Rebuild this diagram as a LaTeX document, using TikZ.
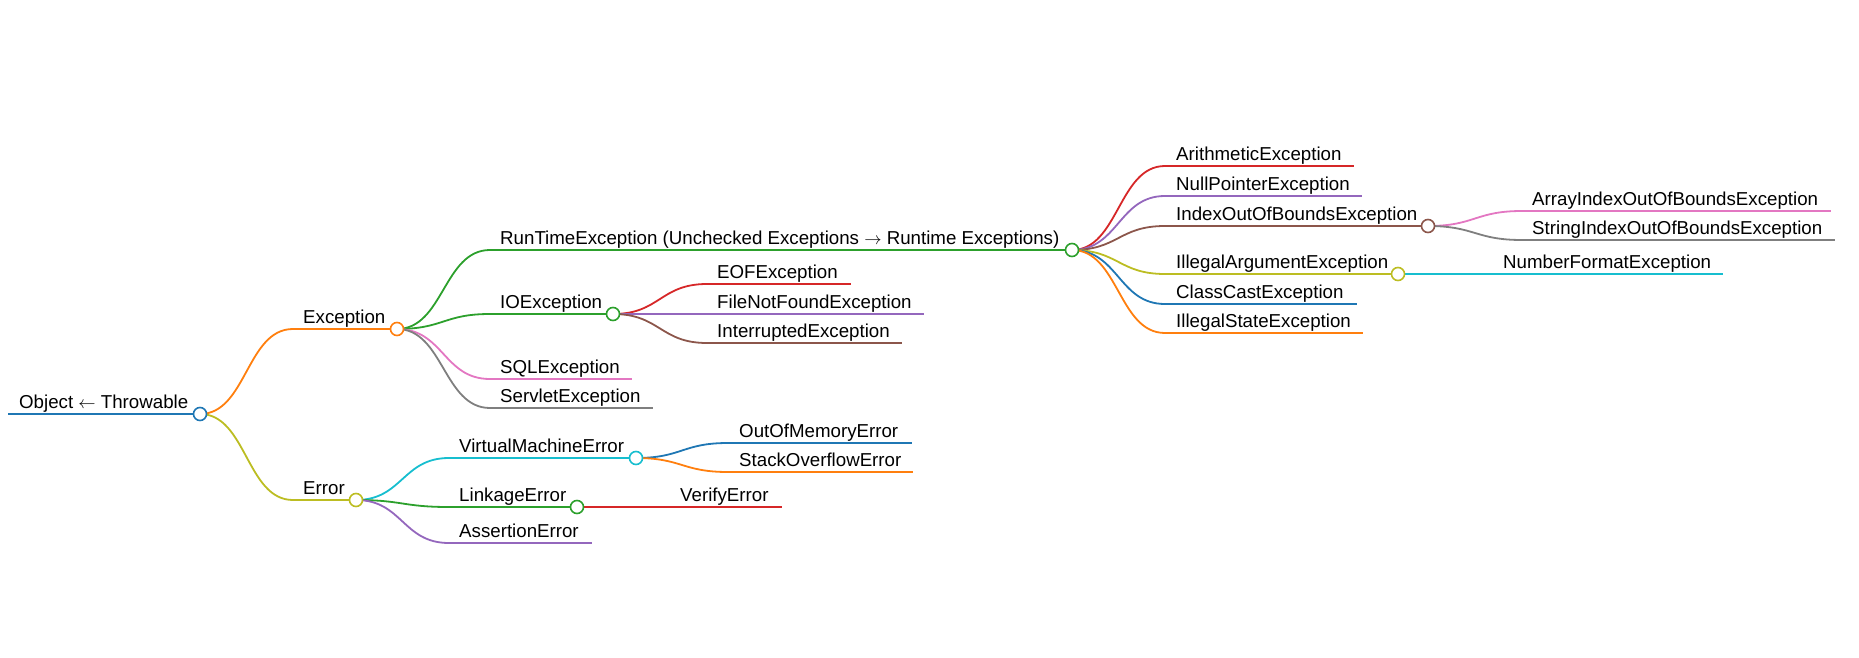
\documentclass[tikz,border=0pt]{standalone}
\usepackage{fontspec}
\setmainfont{Liberation Sans}
\usetikzlibrary{calc}

\definecolor{mmblue}{HTML}{1F77B4}
\definecolor{mmorange}{HTML}{FF7F0E}
\definecolor{mmgreen}{HTML}{2CA02C}
\definecolor{mmred}{HTML}{D62728}
\definecolor{mmpurple}{HTML}{9467BD}
\definecolor{mmbrown}{HTML}{8C564B}
\definecolor{mmpink}{HTML}{E377C2}
\definecolor{mmgray}{HTML}{7F7F7F}
\definecolor{mmolive}{HTML}{BCBD22}
\definecolor{mmcyan}{HTML}{17BECF}

\tikzset{
  branch/.style={line width=1.8pt},
  lbl/.style={anchor=base west, inner sep=0pt, font=\fontsize{18.7}{22}\selectfont},
  knot/.style={circle, draw=#1, fill=white, line width=1.6pt, minimum size=13pt, inner sep=0pt},
  link/.style={line width=1.8pt, to path={let \p1=(\tikztostart), \p2=(\tikztotarget) in
      .. controls ({(\x1+\x2)/2},\y1) and ({(\x1+\x2)/2},\y2) .. (\tikztotarget)}},
}

\begin{document}
\begin{tikzpicture}[x=1pt,y=-1pt]
\useasboundingbox (0,0) rectangle (1859,658);

% line ends of every item
\coordinate (root-l) at (8,414);    \coordinate (root-r) at (200,414);
\coordinate (exc-l) at (293,329);   \coordinate (exc-r) at (397,329);
\coordinate (err-l) at (293,500);   \coordinate (err-r) at (356,500);

\coordinate (rte-l) at (490,250);   \coordinate (rte-r) at (1072,250);
\coordinate (ioe-l) at (490,314);   \coordinate (ioe-r) at (613,314);
\coordinate (sql-l) at (490,379);   \coordinate (sql-r) at (632,379);
\coordinate (svl-l) at (490,408);   \coordinate (svl-r) at (653,408);

\coordinate (eof-l) at (707,284);   \coordinate (eof-r) at (851,284);
\coordinate (fnf-l) at (707,314);   \coordinate (fnf-r) at (924,314);
\coordinate (int-l) at (707,343);   \coordinate (int-r) at (902,343);

\coordinate (ari-l) at (1165,166);  \coordinate (ari-r) at (1354,166);
\coordinate (npe-l) at (1165,196);  \coordinate (npe-r) at (1362,196);
\coordinate (iob-l) at (1165,226);  \coordinate (iob-r) at (1428,226);
\coordinate (iae-l) at (1165,274);  \coordinate (iae-r) at (1398,274);
\coordinate (cce-l) at (1165,304);  \coordinate (cce-r) at (1357,304);
\coordinate (ise-l) at (1165,333);  \coordinate (ise-r) at (1363,333);

\coordinate (aio-l) at (1522,211);  \coordinate (aio-r) at (1831,211);
\coordinate (sio-l) at (1522,240);  \coordinate (sio-r) at (1835,240);
\coordinate (nfe-l) at (1493,274);  \coordinate (nfe-r) at (1723,274);

\coordinate (vme-l) at (449,458);   \coordinate (vme-r) at (636,458);
\coordinate (lke-l) at (449,507);   \coordinate (lke-r) at (577,507);
\coordinate (ase-l) at (449,543);   \coordinate (ase-r) at (592,543);

\coordinate (oom-l) at (728,443);   \coordinate (oom-r) at (912,443);
\coordinate (soe-l) at (728,472);   \coordinate (soe-r) at (913,472);
\coordinate (vfe-l) at (670,507);   \coordinate (vfe-r) at (782,507);

% curved links
\draw[link, mmorange] (root-r) to (exc-l);
\draw[link, mmolive]  (root-r) to (err-l);

\draw[link, mmgreen]  (exc-r) to (rte-l);
\draw[link, mmgreen]  (exc-r) to (ioe-l);
\draw[link, mmpink]   (exc-r) to (sql-l);
\draw[link, mmgray]   (exc-r) to (svl-l);

\draw[link, mmred]    (ioe-r) to (eof-l);
\draw[link, mmpurple] (ioe-r) to (fnf-l);
\draw[link, mmbrown]  (ioe-r) to (int-l);

\draw[link, mmred]    (rte-r) to (ari-l);
\draw[link, mmpurple] (rte-r) to (npe-l);
\draw[link, mmbrown]  (rte-r) to (iob-l);
\draw[link, mmolive]  (rte-r) to (iae-l);
\draw[link, mmblue]   (rte-r) to (cce-l);
\draw[link, mmorange] (rte-r) to (ise-l);

\draw[link, mmpink]   (iob-r) to (aio-l);
\draw[link, mmgray]   (iob-r) to (sio-l);
\draw[link, mmcyan]   (iae-r) to (nfe-l);

\draw[link, mmcyan]   (err-r) to (vme-l);
\draw[link, mmgreen]  (err-r) to (lke-l);
\draw[link, mmpurple] (err-r) to (ase-l);

\draw[link, mmblue]   (vme-r) to (oom-l);
\draw[link, mmorange] (vme-r) to (soe-l);
\draw[link, mmred]    (lke-r) to (vfe-l);

% underlines
\draw[branch, mmblue, line width=2.6pt] (root-l) -- (root-r);
\draw[branch, mmorange, line width=2.2pt] (exc-l) -- (exc-r);
\draw[branch, mmolive, line width=2.2pt] (err-l) -- (err-r);

\draw[branch, mmgreen]  (rte-l) -- (rte-r);
\draw[branch, mmgreen]  (ioe-l) -- (ioe-r);
\draw[branch, mmpink]   (sql-l) -- (sql-r);
\draw[branch, mmgray]   (svl-l) -- (svl-r);

\draw[branch, mmred]    (eof-l) -- (eof-r);
\draw[branch, mmpurple] (fnf-l) -- (fnf-r);
\draw[branch, mmbrown]  (int-l) -- (int-r);

\draw[branch, mmred]    (ari-l) -- (ari-r);
\draw[branch, mmpurple] (npe-l) -- (npe-r);
\draw[branch, mmbrown]  (iob-l) -- (iob-r);
\draw[branch, mmolive]  (iae-l) -- (iae-r);
\draw[branch, mmblue]   (cce-l) -- (cce-r);
\draw[branch, mmorange] (ise-l) -- (ise-r);

\draw[branch, mmpink]   (aio-l) -- (aio-r);
\draw[branch, mmgray]   (sio-l) -- (sio-r);
\draw[branch, mmcyan]   (nfe-l) -- (nfe-r);

\draw[branch, mmcyan]   (vme-l) -- (vme-r);
\draw[branch, mmgreen]  (lke-l) -- (lke-r);
\draw[branch, mmpurple] (ase-l) -- (ase-r);

\draw[branch, mmblue]   (oom-l) -- (oom-r);
\draw[branch, mmorange] (soe-l) -- (soe-r);
\draw[branch, mmred]    (vfe-l) -- (vfe-r);

% fold circles
\node[knot=mmblue]   (root-c) at (root-r) {};
\node[knot=mmorange] (exc-c) at (exc-r) {};
\node[knot=mmolive]  (err-c) at (err-r) {};
\node[knot=mmgreen]  (rte-c) at (rte-r) {};
\node[knot=mmgreen]  (ioe-c) at (ioe-r) {};
\node[knot=mmbrown]  (iob-c) at (iob-r) {};
\node[knot=mmolive]  (iae-c) at (iae-r) {};
\node[knot=mmcyan]   (vme-c) at (vme-r) {};
\node[knot=mmgreen]  (lke-c) at (lke-r) {};

% labels
\node[lbl] (root) at ($(root-l)+(11,-6)$) {Object $\leftarrow$ Throwable};
\node[lbl] (exc) at ($(exc-l)+(10,-6)$) {Exception};
\node[lbl] (err) at ($(err-l)+(10,-6)$) {Error};

\node[lbl] (rte) at ($(rte-l)+(10,-6)$) {RunTimeException (Unchecked Exceptions $\rightarrow$ Runtime Exceptions)};
\node[lbl] (ioe) at ($(ioe-l)+(10,-6)$) {IOException};
\node[lbl] (sql) at ($(sql-l)+(10,-6)$) {SQLException};
\node[lbl] (svl) at ($(svl-l)+(10,-6)$) {ServletException};

\node[lbl] (eof) at ($(eof-l)+(10,-6)$) {EOFException};
\node[lbl] (fnf) at ($(fnf-l)+(10,-6)$) {FileNotFoundException};
\node[lbl] (int) at ($(int-l)+(10,-6)$) {InterruptedException};

\node[lbl] (ari) at ($(ari-l)+(11,-6)$) {ArithmeticException};
\node[lbl] (npe) at ($(npe-l)+(11,-6)$) {NullPointerException};
\node[lbl] (iob) at ($(iob-l)+(11,-6)$) {IndexOutOfBoundsException};
\node[lbl] (iae) at ($(iae-l)+(11,-6)$) {IllegalArgumentException};
\node[lbl] (cce) at ($(cce-l)+(11,-6)$) {ClassCastException};
\node[lbl] (ise) at ($(ise-l)+(11,-6)$) {IllegalStateException};

\node[lbl] (aio) at ($(aio-l)+(10,-6)$) {ArrayIndexOutOfBoundsException};
\node[lbl] (sio) at ($(sio-l)+(10,-6)$) {StringIndexOutOfBoundsException};
\node[lbl] (nfe) at ($(nfe-l)+(10,-6)$) {NumberFormatException};

\node[lbl] (vme) at ($(vme-l)+(10,-6)$) {VirtualMachineError};
\node[lbl] (lke) at ($(lke-l)+(10,-6)$) {LinkageError};
\node[lbl] (ase) at ($(ase-l)+(10,-6)$) {AssertionError};

\node[lbl] (oom) at ($(oom-l)+(11,-6)$) {OutOfMemoryError};
\node[lbl] (soe) at ($(soe-l)+(11,-6)$) {StackOverflowError};
\node[lbl] (vfe) at ($(vfe-l)+(10,-6)$) {VerifyError};
\end{tikzpicture}
\end{document}
